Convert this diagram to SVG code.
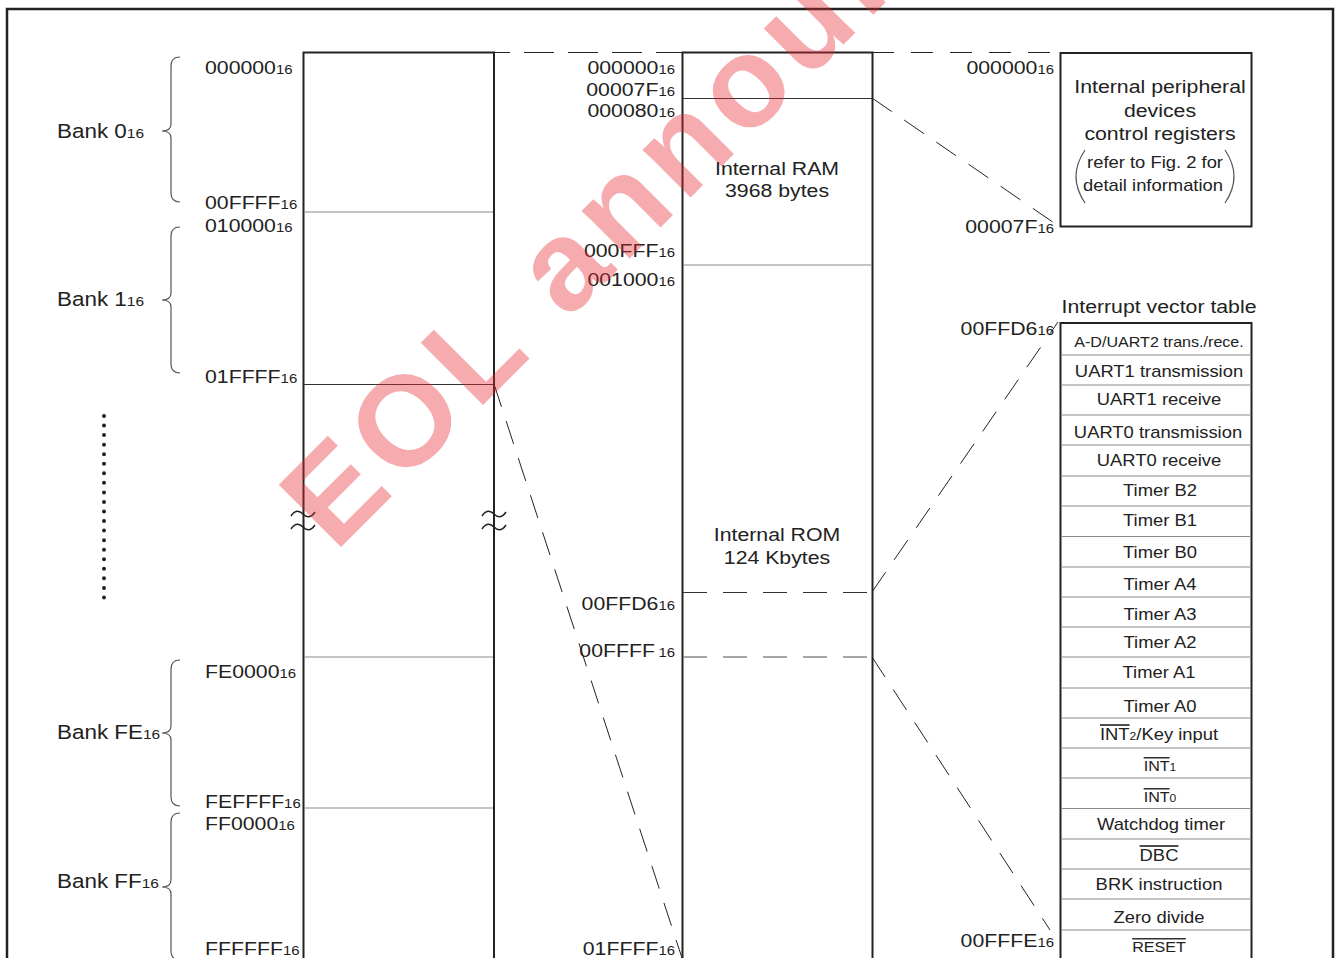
<svg xmlns="http://www.w3.org/2000/svg" width="1338" height="958" viewBox="0 0 1338 958">
<style>
text{font-family:"Liberation Sans",Arial,Helvetica,sans-serif;fill:#222}
.a{font-size:18.5px}
.s{font-size:13px}
.bk{font-size:19.5px}
.bs{font-size:13.5px}
.c{text-anchor:middle}
.e{text-anchor:end}
.tb{font-size:16px;text-anchor:middle}
.sm{font-size:14px}
.xs{font-size:10.5px}
.ov{text-decoration:overline}
.k{fill:none;stroke:#222;stroke-width:2}
.thin{fill:none;stroke:#333;stroke-width:1}
.gr{fill:none;stroke:#8a8a8a;stroke-width:1.2}
.dash{fill:none;stroke:#222;stroke-width:1;stroke-dasharray:24 15}
.br{fill:none;stroke:#555;stroke-width:1.2}
.wv{fill:none;stroke:#222;stroke-width:1.5}
.wm{font-family:"Liberation Sans",Arial,sans-serif;font-weight:bold;font-size:128px;letter-spacing:8px;fill:#e8282d;opacity:0.38}
</style>
<defs>
<path id="brk" d="M-12,2 C-8,-4 -4,-4 0,0 S8,4 12,-2 M-12,15 C-8,9 -4,9 0,13 S8,17 12,11"/>
</defs>

<rect id="frame" x="7" y="9" width="1326" height="970" fill="none" stroke="#222" stroke-width="2.5"/>

<g id="bank-column">
<path class="k" d="M303.5,52.5 H494 M303.5,51.5 V960 M494,51.5 V960"/>
<path class="gr" d="M304,212 H493 M304,657 H493 M304,808 H493"/>
<path class="thin" d="M304,384.5 H493"/>
<use href="#brk" x="303" y="514" class="wv"/>
<use href="#brk" x="494" y="514" class="wv"/>
<line x1="104" y1="416" x2="104" y2="598" stroke="#222" stroke-width="4" stroke-linecap="round" stroke-dasharray="0 9.55"/>
<text class="a" transform="matrix(1.15 0 0 1 205 74)">000000<tspan class="s">16</tspan></text>
<text class="a" transform="matrix(1.15 0 0 1 205 209)">00FFFF<tspan class="s">16</tspan></text>
<text class="a" transform="matrix(1.15 0 0 1 205 232)">010000<tspan class="s">16</tspan></text>
<text class="a" transform="matrix(1.15 0 0 1 205 383)">01FFFF<tspan class="s">16</tspan></text>
<text class="a" transform="matrix(1.15 0 0 1 205 678)">FE0000<tspan class="s">16</tspan></text>
<text class="a" transform="matrix(1.15 0 0 1 205 808)">FEFFFF<tspan class="s">16</tspan></text>
<text class="a" transform="matrix(1.15 0 0 1 205 830)">FF0000<tspan class="s">16</tspan></text>
<text class="a" transform="matrix(1.15 0 0 1 205 955)">FFFFFF<tspan class="s">16</tspan></text>
</g>

<g id="bank-0">
<path class="br" d="M180,57 Q171,57 171,66 V124 Q171,131 162,131 Q171,131 171,138 V193 Q171,202 180,202"/>
<text class="bk" transform="matrix(1.15 0 0 1 57 138)">Bank 0<tspan class="bs">16</tspan></text>
</g>
<g id="bank-1">
<path class="br" d="M180,227 Q171,227 171,236 V293 Q171,300 162,300 Q171,300 171,307 V364 Q171,373 180,373"/>
<text class="bk" transform="matrix(1.15 0 0 1 57 306)">Bank 1<tspan class="bs">16</tspan></text>
</g>
<g id="bank-fe">
<path class="br" d="M180,660 Q171,660 171,669 V726 Q171,733 162,733 Q171,733 171,740 V797 Q171,806 180,806"/>
<text class="bk" transform="matrix(1.15 0 0 1 57 739)">Bank FE<tspan class="bs">16</tspan></text>
</g>
<g id="bank-ff">
<path class="br" d="M180,813 Q171,813 171,822 V880 Q171,887 162,887 Q171,887 171,894 V951 Q171,960 180,960"/>
<text class="bk" transform="matrix(1.15 0 0 1 57 888)">Bank FF<tspan class="bs">16</tspan></text>
</g>

<g id="memory-column">
<path class="k" d="M682.5,52.5 H872.5 M682.5,51.5 V960 M872.5,51.5 V960"/>
<path class="thin" d="M683,98.5 H872"/>
<path class="gr" d="M683,265 H872"/>
<path d="M683,592.5 H872" fill="none" stroke="#333" stroke-width="1" stroke-dasharray="24 16"/>
<path d="M683,657 H872" fill="none" stroke="#888" stroke-width="1.3" stroke-dasharray="24 16"/>
<text class="a c" transform="matrix(1.15 0 0 1 777 175)">Internal RAM</text>
<text class="a c" transform="matrix(1.15 0 0 1 777 197)">3968 bytes</text>
<text class="a c" transform="matrix(1.15 0 0 1 777 541)">Internal ROM</text>
<text class="a c" transform="matrix(1.15 0 0 1 777 564)">124 Kbytes</text>
<text class="a e" transform="matrix(1.15 0 0 1 675 74)">000000<tspan class="s">16</tspan></text>
<text class="a e" transform="matrix(1.15 0 0 1 675 96)">00007F<tspan class="s">16</tspan></text>
<text class="a e" transform="matrix(1.15 0 0 1 675 117)">000080<tspan class="s">16</tspan></text>
<text class="a e" transform="matrix(1.15 0 0 1 675 257)">000FFF<tspan class="s">16</tspan></text>
<text class="a e" transform="matrix(1.15 0 0 1 675 286)">001000<tspan class="s">16</tspan></text>
<text class="a e" transform="matrix(1.15 0 0 1 675 610)">00FFD6<tspan class="s">16</tspan></text>
<text class="a e" transform="matrix(1.15 0 0 1 675 657)">00FFFF<tspan class="s" dx="3">16</tspan></text>
<text class="a e" transform="matrix(1.15 0 0 1 675 955)">01FFFF<tspan class="s">16</tspan></text>
</g>

<g id="sfr-box">
<rect class="k" x="1060.5" y="53" width="191" height="173.5"/>
<text class="a c" transform="matrix(1.15 0 0 1 1160 93)">Internal peripheral</text>
<text class="a c" transform="matrix(1.15 0 0 1 1160 117)">devices</text>
<text class="a c" transform="matrix(1.15 0 0 1 1160 140)">control registers</text>
<text class="c" font-size="16" transform="matrix(1.15 0 0 1 1155 168)">refer to Fig. 2 for</text>
<text class="c" font-size="16" transform="matrix(1.15 0 0 1 1153 191)">detail information</text>
<path class="br" stroke="#222" d="M1085,150 Q1067,176.5 1085,203 M1225,150 Q1243,176.5 1225,203"/>
<text class="a e" transform="matrix(1.15 0 0 1 1054 74)">000000<tspan class="s">16</tspan></text>
<text class="a e" transform="matrix(1.15 0 0 1 1054 233)">00007F<tspan class="s">16</tspan></text>
</g>

<g id="vector-table">
<text class="a c" transform="matrix(1.15 0 0 1 1159 313)">Interrupt vector table</text>
<path class="k" d="M1060.5,323 H1251.5 M1060.5,322 V960 M1251.5,322 V960"/>
<path class="gr" stroke="#6a6a6a" d="M1061,355 H1251 M1061,385 H1251 M1061,415 H1251 M1061,445 H1251 M1061,476 H1251 M1061,506 H1251 M1061,536.5 H1251 M1061,567 H1251 M1061,597 H1251 M1061,627 H1251 M1061,657 H1251 M1061,688 H1251 M1061,718 H1251 M1061,748 H1251 M1061,778 H1251 M1061,808.5 H1251 M1061,839 H1251 M1061,869 H1251 M1061,899 H1251 M1061,930 H1251"/>
<text class="c" font-size="14" transform="matrix(1.15 0 0 1 1159 347)">A-D/UART2 trans./rece.</text>
<text class="tb" transform="matrix(1.15 0 0 1 1159 377)">UART1 transmission</text>
<text class="tb" transform="matrix(1.15 0 0 1 1159 405)">UART1 receive</text>
<text class="tb" transform="matrix(1.15 0 0 1 1158 438)">UART0 transmission</text>
<text class="tb" transform="matrix(1.15 0 0 1 1159 466)">UART0 receive</text>
<text class="tb" transform="matrix(1.15 0 0 1 1160 496)">Timer B2</text>
<text class="tb" transform="matrix(1.15 0 0 1 1160 526)">Timer B1</text>
<text class="tb" transform="matrix(1.15 0 0 1 1160 558)">Timer B0</text>
<text class="tb" transform="matrix(1.15 0 0 1 1160 590)">Timer A4</text>
<text class="tb" transform="matrix(1.15 0 0 1 1160 620)">Timer A3</text>
<text class="tb" transform="matrix(1.15 0 0 1 1160 648)">Timer A2</text>
<text class="tb" transform="matrix(1.15 0 0 1 1159 678)">Timer A1</text>
<text class="tb" transform="matrix(1.15 0 0 1 1160 712)">Timer A0</text>
<text class="tb" transform="matrix(1.15 0 0 1 1159 740)"><tspan class="ov">INT</tspan><tspan class="xs">2</tspan>/Key input</text>
<text class="tb sm" transform="matrix(1.15 0 0 1 1160 771)"><tspan class="ov">INT</tspan><tspan class="xs">1</tspan></text>
<text class="tb sm" transform="matrix(1.15 0 0 1 1160 802)"><tspan class="ov">INT</tspan><tspan class="xs">0</tspan></text>
<text class="tb" transform="matrix(1.15 0 0 1 1161 830)">Watchdog timer</text>
<text class="tb ov" font-size="15.5" transform="matrix(1.15 0 0 1 1159 861)">DBC</text>
<text class="tb" transform="matrix(1.15 0 0 1 1159 890)">BRK instruction</text>
<text class="tb" transform="matrix(1.15 0 0 1 1159 923)">Zero divide</text>
<text class="tb sm ov" transform="matrix(1.15 0 0 1 1159 952)">RESET</text>
<text class="a e" transform="matrix(1.15 0 0 1 1054 335)">00FFD6<tspan class="s">16</tspan></text>
<text class="a e" transform="matrix(1.15 0 0 1 1054 947)">00FFFE<tspan class="s">16</tspan></text>
</g>

<g id="connectors">
<path d="M494,52.5 H682" fill="none" stroke="#222" stroke-width="1" stroke-dasharray="30 14" stroke-dashoffset="14"/>
<path d="M872,52.5 H1060" fill="none" stroke="#222" stroke-width="1" stroke-dasharray="22 17"/>
<path class="dash" d="M494,384 L682,958"/>
<path class="dash" d="M872,98 L1060,227"/>
<path class="dash" d="M872,592 L1058,322"/>
<path class="dash" d="M872,657 L1050,930"/>
</g>

<text class="wm" transform="translate(335,553) rotate(-45)">EOL announced</text>
</svg>
